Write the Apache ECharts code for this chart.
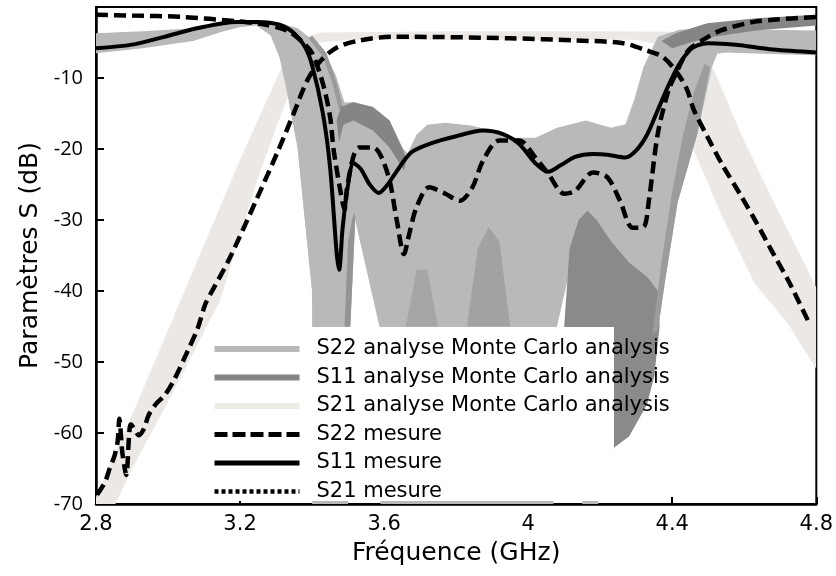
<!DOCTYPE html>
<html><head><meta charset="utf-8">
<script src="https://cdn.jsdelivr.net/npm/echarts/dist/echarts.min.js"></script>
<style>html,body{margin:0;padding:0;background:#fff}#c{width:836px;height:576px}</style>
</head><body><div id="c"></div>
<script>
// ---- tick values ----
const xTicks = [2.8, 3.2, 3.6, 4, 4.4, 4.8];
const yTicks = [-70, -60, -50, -40, -30, -20, -10, 0];

// ---- measured curves [GHz, dB] ----
const s11Mesure = [
  [2.80,-5.8],[2.90,-5.3],[2.99,-4.2],[3.08,-3.0],[3.19,-2.1],[3.25,-2.1],[3.31,-2.5],[3.35,-3.7],
  [3.38,-5.6],[3.40,-8.2],[3.43,-15.0],[3.45,-22.6],[3.468,-34.5],[3.475,-37],[3.485,-31],[3.50,-25],
  [3.515,-22],[3.535,-22.8],[3.56,-25],[3.585,-26.2],[3.61,-25],[3.63,-23.5],[3.675,-20.5],[3.73,-19.2],
  [3.80,-18.2],[3.875,-17.4],[3.93,-17.9],[3.975,-19.3],[4.02,-22],[4.055,-23.2],[4.09,-22.3],[4.13,-21.1],
  [4.18,-20.7],[4.22,-20.8],[4.27,-21.2],[4.30,-20.2],[4.33,-18],[4.36,-14.5],[4.39,-11],[4.42,-8],
  [4.45,-6],[4.47,-5.4],[4.50,-5.1],[4.55,-5.2],[4.59,-5.4],[4.68,-6.0],[4.80,-6.4]
];
const s22Mesure = [
  [2.80,-1.1],[2.90,-1.2],[3.04,-1.4],[3.19,-2.0],[3.26,-2.4],[3.33,-3.3],[3.37,-4.8],[3.40,-6.5],
  [3.43,-10.8],[3.45,-15.5],[3.46,-20.2],[3.48,-26.3],[3.49,-28.5],[3.497,-25.5],[3.515,-21],[3.53,-19.8],
  [3.57,-19.8],[3.61,-23.5],[3.635,-30],[3.655,-34.8],[3.67,-31.9],[3.69,-28.2],[3.725,-25.4],[3.77,-26.3],
  [3.81,-27.3],[3.845,-25.4],[3.875,-21.6],[3.92,-18.8],[3.975,-18.8],[4.02,-21.2],[4.056,-23.5],[4.10,-26.3],
  [4.13,-25.9],[4.18,-23.3],[4.22,-24],[4.255,-27.3],[4.29,-31.1],[4.32,-31],[4.335,-27.3],[4.36,-17.8],
  [4.39,-11.7],[4.41,-9.4],[4.445,-6.1],[4.49,-4.5],[4.535,-3.3],[4.625,-2.1],[4.68,-1.8],[4.80,-1.4]
];
const s21Mesure = [
  [2.803,-68.7],[2.825,-66.9],[2.838,-65],[2.852,-63.1],[2.86,-61.2],[2.865,-58],[2.873,-62.7],[2.884,-65.9],
  [2.892,-60.3],[2.897,-58.8],[2.919,-60.3],[2.933,-59.4],[2.946,-57.5],[2.965,-56],[2.992,-54.6],[3.019,-52.3],
  [3.054,-48.5],[3.082,-45.3],[3.103,-41.9],[3.117,-40.5],[3.171,-35.4],[3.244,-27.3],[3.306,-20.2],[3.352,-14.6],
  [3.387,-10.3],[3.425,-7.5],[3.469,-5.7],[3.534,-4.7],[3.623,-4.2],[3.677,-4.2],[3.948,-4.4],[4.129,-4.7],
  [4.264,-5.1],[4.327,-6.1],[4.373,-7],[4.41,-9],[4.44,-11.5],[4.46,-14.5],[4.50,-18.5],[4.54,-22.3],
  [4.59,-26.5],[4.633,-30.3],[4.679,-34.6],[4.725,-38.8],[4.78,-44.5]
];

// ---- Monte Carlo envelopes (outlines, [GHz, dB]) ----
const mcS21Band = [
  [2.80,-69],[2.90,-57.5],[3.00,-45.5],[3.10,-33.5],[3.20,-21.5],[3.28,-12.5],[3.32,-8],[3.36,-4.8],
  [3.42,-3.6],[3.80,-3.4],[4.20,-3.4],[4.40,-3.5],[4.46,-4.5],[4.516,-8.9],[4.59,-17.8],[4.68,-27.3],[4.80,-39.5],
  [4.80,-51],[4.72,-44.5],[4.63,-39],[4.54,-29.7],[4.46,-20.2],[4.42,-12],[4.38,-5.5],[4.30,-4.6],
  [3.50,-4.6],[3.42,-5],[3.38,-7],[3.352,-10],[3.30,-17],[3.25,-24],[3.144,-41.4],[3.00,-55.6],
  [2.90,-65],[2.854,-70],[2.80,-70]
];
const mcS22Left = [
  [2.80,-3.7],[2.93,-3.4],[3.07,-3.0],[3.15,-2.4],[3.22,-1.9],[3.30,-2.1],[3.36,-3.0],[3.43,-5.8],
  [3.466,-9.6],[3.49,-13.5],[3.52,-13.4],[3.52,-29.5],[3.506,-45],[3.50,-70],[3.40,-70],[3.405,-45],
  [3.40,-40],[3.38,-30],[3.36,-20],[3.33,-11.9],[3.31,-7.2],[3.285,-4],[3.245,-2.6],[3.20,-2.8],
  [3.15,-3.5],[3.07,-4.8],[2.93,-5.8],[2.80,-6.5]
];
const mcS22Core = [
  [3.40,-60],[3.40,-40],[3.38,-30],[3.36,-20],[3.40,-8],[3.45,-9],[3.49,-13.5],[3.52,-13.4],
  [3.52,-29.5],[3.506,-45],[3.50,-60]
];
const mcS22Main = [
  [3.515,-13.4],[3.569,-14.1],[3.615,-16],[3.65,-19.8],[3.665,-20.6],[3.69,-18],[3.72,-16.6],[3.77,-16.3],
  [3.84,-16.7],[3.90,-17.4],[3.96,-18.4],[4.02,-18.4],[4.08,-17],[4.16,-16],[4.23,-17],[4.27,-16.5],
  [4.295,-13],[4.32,-8.5],[4.36,-4.2],[4.42,-3.2],[4.50,-3.0],[4.65,-3.2],[4.80,-3.3],
  [4.80,-6.8],[4.65,-6.6],[4.55,-6.4],[4.525,-6.6],[4.51,-8.5],[4.47,-17.8],[4.415,-27.5],[4.38,-38.6],
  [4.36,-45.6],[4.35,-52],[4.30,-57],[4.24,-60],[4.205,-62],[4.195,-70],
  [4.15,-70],[4.145,-45],[4.137,-33],[4.125,-35],[4.08,-45],[4.07,-70],
  [3.59,-70],[3.587,-45],[3.515,-29]
];
const mcS11Lobe = [
  [3.468,-16],[3.48,-14.1],[3.515,-13.4],[3.569,-14.1],[3.615,-16],[3.65,-19.8],[3.662,-21.5],
  [3.655,-23],[3.615,-19.8],[3.569,-17.4],[3.515,-16],[3.487,-16.6],[3.475,-19]
];
const mcS11Low = [
  [4.10,-45],[4.115,-34],[4.14,-30],[4.165,-28.7],[4.19,-30],[4.23,-33],[4.28,-36],[4.33,-38],
  [4.36,-40],[4.365,-45],[4.35,-52],[4.33,-56],[4.28,-60.5],[4.24,-62],[4.215,-66],[4.205,-60],
  [4.20,-50],[4.15,-48]
];
const mcS11Top = [
  [4.37,-4.8],[4.41,-3.7],[4.497,-2.3],[4.633,-1.6],[4.80,-1.1],
  [4.80,-2.6],[4.633,-3.3],[4.50,-4.3],[4.45,-5.0],[4.40,-5.8]
];
const mcS11Slope = [
  [4.345,-46],[4.37,-36],[4.40,-26],[4.43,-18],[4.46,-12],[4.49,-8],[4.505,-8.5],
  [4.47,-17.8],[4.415,-27.5],[4.38,-38.6],[4.36,-45.6]
];
const mcS11Edge = [
  [3.40,-4.0],[3.44,-6.5],[3.47,-11],[3.485,-14],[3.475,-14.5],[3.455,-10.5],[3.43,-7],[3.39,-4.4]
];
const mcS11Notch = [[3.49,-45],[3.50,-33],[3.515,-29],[3.52,-29.5],[3.506,-45]];
const mcStreakA = [[3.66,-45],[3.69,-37],[3.72,-37],[3.75,-45]];
const mcStreakB = [[3.83,-45],[3.86,-34],[3.89,-31],[3.92,-33],[3.95,-45]];

// ---- names ----
const names = [
  'S22 analyse Monte Carlo analysis',
  'S11 analyse Monte Carlo analysis',
  'S21 analyse Monte Carlo analysis',
  'S22 mesure', 'S11 mesure', 'S21 mesure'
];

const C_S22 = '#b9b9b9', C_S11 = '#858585', C_S21 = '#ebe8e5';

function band(name, pts, color, z) {
  return {
    name: name, type: 'custom', data: pts, z: z, silent: true, animation: false,
    itemStyle: { color: color },
    renderItem: function (params, api) {
      if (params.dataIndex !== 0) return null;
      const cs = params.coordSys;
      return {
        type: 'polygon',
        shape: { points: pts.map(function (p) { return api.coord(p); }) },
        style: { fill: color },
        clipPath: { type: 'rect', shape: { x: cs.x, y: cs.y, width: cs.width, height: cs.height } }
      };
    }
  };
}

const chart = echarts.init(document.getElementById('c'), null, { renderer: 'canvas' });
const MCicon = 'path://M0 0H85V6H0Z';
const hideSym = { opacity: 0 };
chart.setOption({
  animation: false,
  backgroundColor: '#fff',
  grid: { left: 96, right: 5, top: 7, bottom: 72, show: true, borderColor: '#000', borderWidth: 2, backgroundColor: 'transparent' },
  xAxis: {
    type: 'value', min: xTicks[0], max: xTicks[xTicks.length - 1], interval: 0.4,
    axisLine: { onZero: false, lineStyle: { color: '#000', width: 2.5 } },
    axisTick: { inside: true, length: 7, lineStyle: { color: '#000', width: 2 } },
    splitLine: { show: false },
    axisLabel: { formatter: function (v) { return String(Math.round(v * 10) / 10); }, fontFamily: 'DejaVu Sans', fontSize: 21, color: '#000', margin: 10 },
    name: 'Fréquence (GHz)', nameLocation: 'middle', nameGap: 37,
    nameTextStyle: { fontFamily: 'DejaVu Sans', fontSize: 25, color: '#000' }
  },
  yAxis: {
    type: 'value', min: yTicks[0], max: yTicks[yTicks.length - 1], interval: 10,
    axisLine: { onZero: false, lineStyle: { color: '#000', width: 2.5 } },
    axisTick: { inside: true, length: 8, lineStyle: { color: '#000', width: 2 } },
    splitLine: { show: false },
    axisLabel: { formatter: function (v) { return v === 0 ? '' : String(v); }, fontFamily: 'Open Sans', fontSize: 20, color: '#000', margin: 13 },
    name: 'Paramètres S (dB)', nameLocation: 'middle', nameGap: 52,
    nameTextStyle: { fontFamily: 'DejaVu Sans', fontSize: 25, color: '#000' }
  },
  graphic: [{ type: 'rect', left: 205, top: 327, shape: { width: 409, height: 174 }, style: { fill: '#fff' }, z: 8, silent: true }],
  legend: {
    orient: 'vertical', left: 212, top: 338, itemWidth: 85, itemHeight: 14, itemGap: 6.5,
    selectedMode: false, z: 9, padding: 0,
    textStyle: { fontFamily: 'DejaVu Sans', fontSize: 21, color: '#000', padding: [0, 0, 0, 12], lineHeight: 22 },
    data: [
      { name: names[0], icon: MCicon, itemStyle: { color: C_S22 } },
      { name: names[1], icon: MCicon, itemStyle: { color: C_S11 } },
      { name: names[2], icon: MCicon, itemStyle: { color: '#ecebe4' } },
      { name: names[3], itemStyle: hideSym, lineStyle: { color: '#000', width: 5, type: [13, 5] } },
      { name: names[4], itemStyle: hideSym, lineStyle: { color: '#000', width: 5, type: 'solid' } },
      { name: names[5], itemStyle: hideSym, lineStyle: { color: '#000', width: 4.5, type: [4, 3] } }
    ]
  },
  series: [
    band(names[2], mcS21Band, C_S21, 1),
    band(names[0], mcS22Left, C_S22, 2),
    band(names[0], mcS22Core, C_S22, 2),
    band(names[0], mcS22Main, C_S22, 2),
    band(names[1], mcS11Edge, '#9a9a9a', 3),
    band(names[1], mcS11Lobe, C_S11, 3),
    band(names[1], mcS11Low, '#8a8a8a', 3),
    band(names[1], mcS11Top, C_S11, 3),
    band(names[1], mcS11Slope, '#9c9c9c', 3),
    band(names[1], mcS11Notch, '#949494', 3),
    band(names[1], mcStreakA, '#a6a6a6', 3),
    band(names[1], mcStreakB, '#a2a2a2', 3),
    { name: names[4], type: 'line', data: s11Mesure, symbol: 'none', smooth: 0.3, z: 5, animation: false,
      lineStyle: { color: '#000', width: 4 } },
    { name: names[3], type: 'line', data: s22Mesure, symbol: 'none', smooth: 0.3, z: 5, animation: false,
      lineStyle: { color: '#000', width: 4.5, type: [12, 6] } },
    { name: names[5], type: 'line', data: s21Mesure, symbol: 'none', smooth: 0.3, z: 5, animation: false,
      lineStyle: { color: '#000', width: 4.5, type: [12, 6] } }
  ]
});
</script></body></html>
